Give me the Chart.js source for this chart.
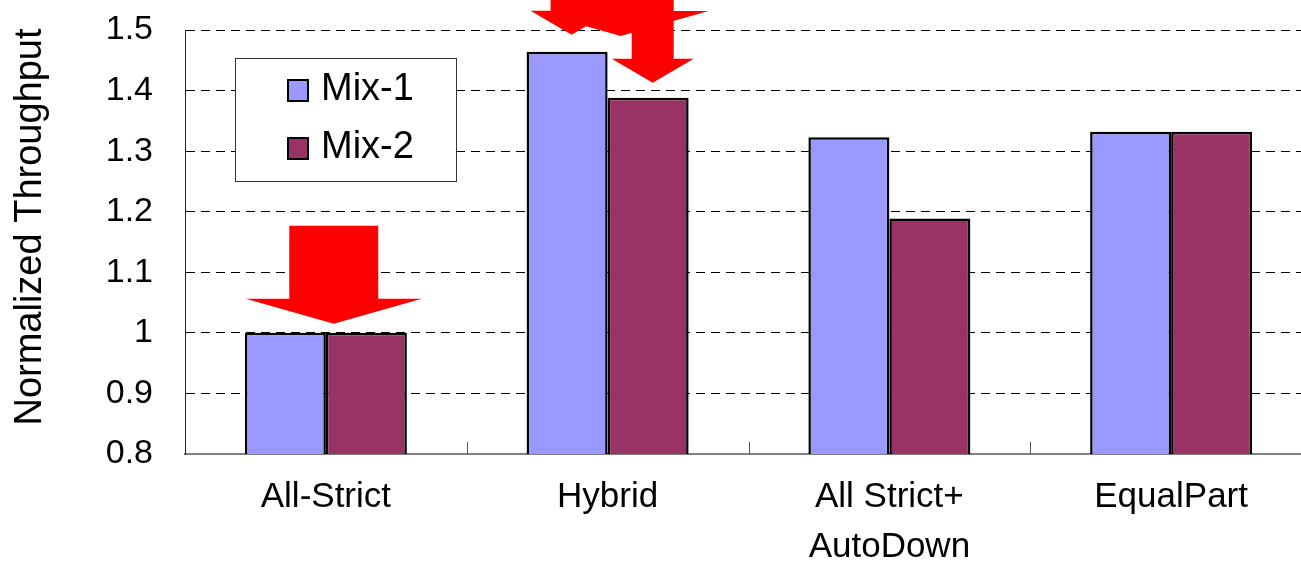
<!DOCTYPE html>
<html>
<head>
<meta charset="utf-8">
<script src="https://cdn.jsdelivr.net/npm/chart.js@4.4.1/dist/chart.umd.min.js"></script>
<style>
  html, body { margin: 0; padding: 0; background: #fff; overflow: hidden; }
  canvas { display: block; }
</style>
</head>
<body>
<canvas id="chart" width="1320" height="561"></canvas>
<script>
// ---- data ----
const categories = ['All-Strict', 'Hybrid', ['All Strict+', 'AutoDown'], 'EqualPart'];
const seriesNames = ['Mix-1', 'Mix-2'];
const mix1 = [1.0, 1.464, 1.323, 1.332];
const mix2 = [1.0, 1.388, 1.189, 1.332];
const yTicks = [0.8, 0.9, 1.0, 1.1, 1.2, 1.3, 1.4, 1.5];
const yTickLabels = ['0.8', '0.9', '1', '1.1', '1.2', '1.3', '1.4', '1.5'];
const yTitle = 'Normalized Throughput';

// highlight arrows: which category they sit over and the value their tip points to
const arrowCats = [0, 1, 1, 1];
const arrowTips = [1.015, 1.492, 1.490, 1.413];
const arrowTops = [1.177, 1.8, 1.8, 1.8];

// ---- style ----
const FONT = '"Liberation Sans", Arial, Helvetica, sans-serif';
const colors = ['#9999FF', '#993366'];
// horizontal shift of each arrow within its category (fraction of category width) and its size
const arrowShift = [0.028, -0.128, 0.046, 0.16];
const arrowSize = ['big', 'small', 'big', 'small'];
const arrowShapes = {
  big:   { headHalf: 88, shaftHalf: 44.5, headH: 25 },
  small: { headHalf: 41, shaftHalf: 21,   headH: 24 }
};

const arrowsPlugin = {
  id: 'arrows',
  afterDatasetsDraw(chart) {
    const { ctx, scales: { x, y } } = chart;
    const catW = x.getPixelForValue(1) - x.getPixelForValue(0);
    ctx.save();
    ctx.fillStyle = '#FF0000';
    arrowCats.forEach((c, i) => {
      const s = arrowShapes[arrowSize[i]];
      const cx = x.getPixelForValue(c) + arrowShift[i] * catW;
      const tipY = y.getPixelForValue(arrowTips[i]);
      const topY = y.getPixelForValue(arrowTops[i]);
      const baseY = tipY - s.headH;
      ctx.beginPath();
      ctx.moveTo(cx - s.shaftHalf, topY);
      ctx.lineTo(cx + s.shaftHalf, topY);
      ctx.lineTo(cx + s.shaftHalf, baseY);
      ctx.lineTo(cx + s.headHalf, baseY);
      ctx.lineTo(cx, tipY);
      ctx.lineTo(cx - s.headHalf, baseY);
      ctx.lineTo(cx - s.shaftHalf, baseY);
      ctx.closePath();
      ctx.fill();
    });
    ctx.restore();
  }
};

const boxLegendPlugin = {
  id: 'boxLegend',
  afterDatasetsDraw(chart) {
    const { ctx } = chart;
    ctx.save();
    ctx.fillStyle = '#fff';
    ctx.fillRect(235, 58, 221, 123);
    ctx.strokeStyle = '#333';
    ctx.lineWidth = 1;
    ctx.strokeRect(235.5, 58.5, 221, 123);
    chart.data.datasets.forEach((ds, i) => {
      const sy = 79 + i * 58;
      ctx.fillStyle = ds.backgroundColor;
      ctx.fillRect(287, sy, 22, 23);
      ctx.strokeStyle = '#000';
      ctx.lineWidth = 2;
      ctx.strokeRect(288, sy + 1, 20, 21);
      ctx.fillStyle = '#000';
      ctx.font = '38px ' + FONT;
      ctx.textBaseline = 'alphabetic';
      ctx.textAlign = 'left';
      ctx.fillText(ds.label, 321, 100 + i * 58);
    });
    ctx.restore();
  }
};

const axisExtrasPlugin = {
  id: 'axisExtras',
  afterDatasetsDraw(chart) {
    const { ctx, chartArea, scales: { x } } = chart;
    const catW = x.getPixelForValue(1) - x.getPixelForValue(0);
    ctx.save();
    ctx.strokeStyle = '#555';
    ctx.lineWidth = 1;
    for (let i = 1; i < categories.length; i++) {
      const px = Math.round(x.getPixelForValue(i) - catW / 2) + 0.5;
      ctx.beginPath();
      ctx.moveTo(px, chartArea.bottom);
      ctx.lineTo(px, chartArea.bottom - 12);
      ctx.stroke();
    }
    // vertical axis title
    ctx.translate(31, 227);
    ctx.rotate(-Math.PI / 2);
    ctx.fillStyle = '#000';
    ctx.font = '38px ' + FONT;
    ctx.textAlign = 'center';
    ctx.textBaseline = 'middle';
    ctx.fillText(yTitle, 0, 0);
    ctx.restore();
  }
};

new Chart(document.getElementById('chart'), {
  type: 'bar',
  data: {
    labels: categories,
    datasets: [
      { label: seriesNames[0], data: mix1, backgroundColor: colors[0] },
      { label: seriesNames[1], data: mix2, backgroundColor: colors[1] }
    ]
  },
  options: {
    responsive: false,
    animation: false,
    devicePixelRatio: 1,
    layout: { padding: { top: 30, right: 8, left: 0, bottom: 0 } },
    datasets: {
      bar: {
        borderColor: '#000',
        borderWidth: 2.5,
        borderSkipped: 'bottom',
        categoryPercentage: 0.575,
        barPercentage: 1.0
      }
    },
    plugins: {
      legend: { display: false },
      tooltip: { enabled: false }
    },
    scales: {
      x: {
        offset: true,
        grid: { display: false, drawTicks: false },
        border: { display: true, color: '#808080', width: 2 },
        ticks: {
          color: '#000',
          font: { family: FONT, size: 35, lineHeight: 1.43 },
          padding: 18,
          maxRotation: 0,
          autoSkip: false
        },
        afterFit(scale) { scale.height = 107; }
      },
      y: {
        min: 0.8,
        max: 1.5,
        afterBuildTicks(scale) { scale.ticks = yTicks.map(v => ({ value: v })); },
        grid: {
          color: '#000',
          lineWidth: 1,
          drawTicks: false
        },
        border: { display: true, color: '#222', width: 1, dash: [9, 6] },
        ticks: {
          color: '#000',
          font: { family: FONT, size: 34 },
          padding: 32,
          callback(v) {
            const i = yTicks.findIndex(t => Math.abs(t - v) < 1e-6);
            return i >= 0 ? yTickLabels[i] : '';
          }
        },
        afterFit(scale) {
          scale.width = 185;
          scale.paddingTop = 0;
          scale.paddingBottom = 0;
        }
      }
    }
  },
  plugins: [arrowsPlugin, boxLegendPlugin, axisExtrasPlugin]
});
</script>
</body>
</html>
